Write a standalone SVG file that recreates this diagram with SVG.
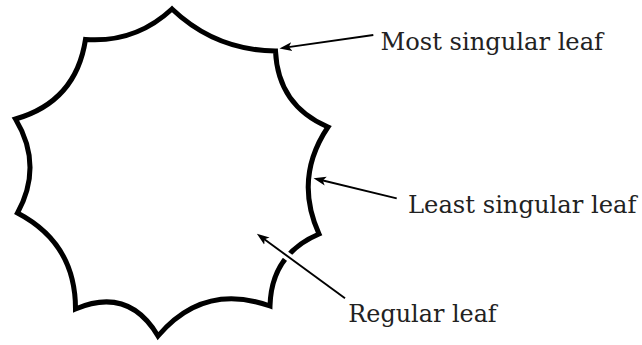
<svg xmlns="http://www.w3.org/2000/svg" width="642" height="345" viewBox="0 0 642 345">
  <defs>
    <style>
      .leaf { fill: none; stroke: #000; stroke-width: 5; stroke-linejoin: miter; stroke-miterlimit: 10; }
      .arr { fill: none; stroke: #000; stroke-width: 1.9; marker-end: url(#head); }
      .halo { fill: none; stroke: #fff; stroke-width: 8; }
      .lbl { font-family: 'DejaVu Serif', serif; font-size: 24px; fill: #222; }
    </style>
    <marker id="head" markerUnits="userSpaceOnUse" markerWidth="14" markerHeight="12" refX="7" refY="6" orient="auto" viewBox="0 0 14 12">
      <path d="M0,1.5 L12.5,6 L0,10.5 L3,6 Z" fill="#000"/>
    </marker>
  </defs>
  <rect width="642" height="345" fill="#fff"/>

  <g id="leaf-shape">
    <path class="leaf" d="M172,9 Q215.5,50.4 275.5,51 Q277.9,105.5 328,127 Q293.6,178 319,234 Q271.3,254.2 270,306 Q203.6,282.3 158,336 Q128.6,286.4 75.5,309 Q75.6,243.4 17.5,213 Q43.5,165.5 15.5,119 Q76,101.7 85.5,39.5 Q135.4,43.1 172,9 Z"/>
  </g>

  <g id="connectors">
    <line class="halo" x1="345" y1="298.3" x2="268" y2="242"/>
    <line class="arr" x1="373.3" y1="35" x2="284.9" y2="47.6"/>
    <line class="arr" x1="396.7" y1="198.3" x2="318.9" y2="179.5"/>
    <line class="arr" x1="345" y1="298.3" x2="261.3" y2="237"/>
  </g>

  <g id="label-most">
    <text class="lbl" x="380.5" y="49.5" textLength="222.5" lengthAdjust="spacingAndGlyphs">Most singular leaf</text>
  </g>
  <g id="label-least">
    <text class="lbl" x="408" y="212.7" textLength="228.5" lengthAdjust="spacingAndGlyphs">Least singular leaf</text>
  </g>
  <g id="label-regular">
    <text class="lbl" x="348.3" y="321.5" textLength="148.4" lengthAdjust="spacingAndGlyphs">Regular leaf</text>
  </g>
</svg>
